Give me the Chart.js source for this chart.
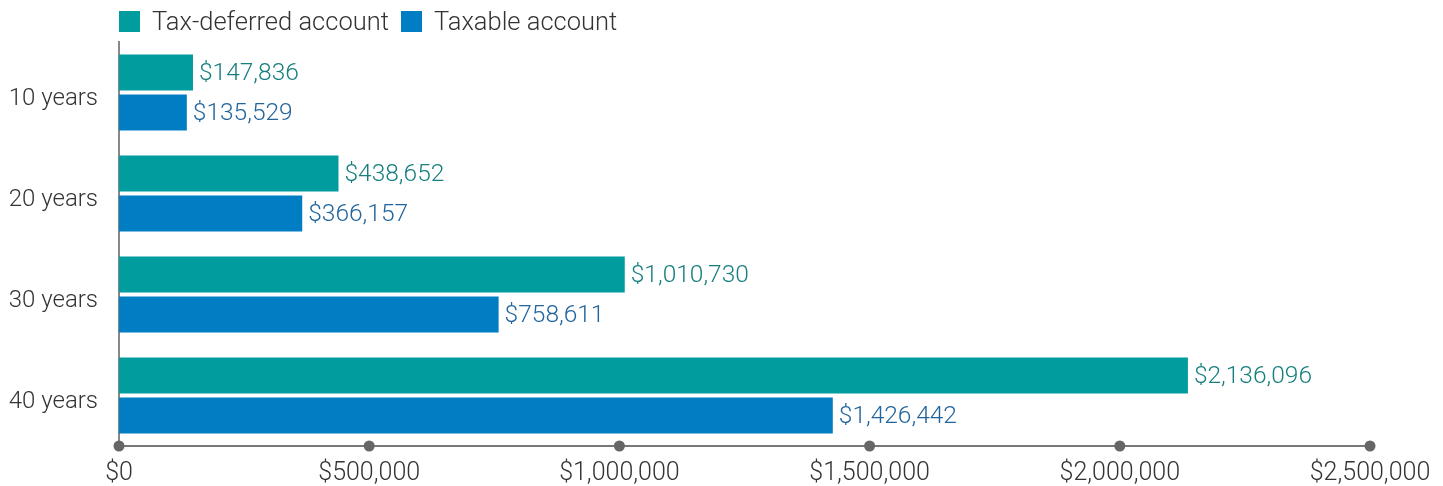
<!DOCTYPE html>
<html>
<head>
<meta charset="utf-8">
<script src="https://cdn.jsdelivr.net/npm/chart.js@4"></script>
<style>
  html, body { margin: 0; padding: 0; background: #fff; }
  #wrap { position: relative; width: 1443px; height: 486px; }
  .legend { position: absolute; top: 6px; left: 119px; display: flex; align-items: center;
            font-family: Roboto, sans-serif; font-weight: 300; font-size: 25.5px; color: #333; }
  .legend span.box { display: inline-block; width: 21px; height: 21px; margin-right: 12px; }
  .legend .item { display: flex; align-items: center; margin-right: 12px; }
</style>
</head>
<body>
<div id="wrap">
  <canvas id="chart" width="1443" height="486"></canvas>
  <div class="legend">
    <div class="item"><span class="box" style="background:#009C9E"></span>Tax-deferred account</div>
    <div class="item"><span class="box" style="background:#007DC3"></span>Taxable account</div>
  </div>
</div>
<script>
// Chart data
const categories = ['10 years', '20 years', '30 years', '40 years'];
const taxDeferred = [147836, 438652, 1010730, 2136096];
const taxable = [135529, 366157, 758611, 1426442];
const xTicks = [0, 500000, 1000000, 1500000, 2000000, 2500000];

const fmt = v => '$' + v.toLocaleString('en-US');

// Value labels right of each bar
const valueLabels = {
    id: 'valueLabels',
    afterDatasetsDraw(chart) {
        const ctx = chart.ctx;
        ctx.save();
        ctx.font = '300 24.5px Roboto';
        ctx.textBaseline = 'middle';
        ctx.textAlign = 'left';
        chart.data.datasets.forEach((ds, i) => {
            ctx.fillStyle = ds.labelColor;
            chart.getDatasetMeta(i).data.forEach((bar, j) => {
                ctx.fillText(fmt(ds.data[j]), bar.x + 6, bar.y + 1);
            });
        });
        ctx.restore();
    }
};

// Round markers on the x axis at each tick
const tickDots = {
    id: 'tickDots',
    afterDraw(chart) {
        const ctx = chart.ctx;
        const xs = chart.scales.x;
        ctx.save();
        ctx.fillStyle = '#666';
        xs.ticks.forEach(t => {
            ctx.beginPath();
            ctx.arc(xs.getPixelForValue(t.value), xs.top, 5.5, 0, Math.PI * 2);
            ctx.fill();
        });
        ctx.restore();
    }
};

new Chart(document.getElementById('chart'), {
    type: 'bar',
    data: {
        labels: categories,
        datasets: [
            { label: 'Tax-deferred account', data: taxDeferred, backgroundColor: '#009C9E', labelColor: '#167F7E' },
            { label: 'Taxable account', data: taxable, backgroundColor: '#007DC3', labelColor: '#22659C' }
        ]
    },
    options: {
        indexAxis: 'y',
        responsive: false,
        animation: false,
        categoryPercentage: 0.792,
        barPercentage: 0.9,
        layout: { padding: { top: 42, right: 73, left: 0, bottom: 0 } },
        scales: {
            x: {
                min: 0,
                max: 2500000,
                afterBuildTicks: s => { s.ticks = xTicks.map(v => ({ value: v })); },
                afterFit: s => { s.height = 40; },
                grid: { display: false },
                border: { display: true, color: '#777', width: 2 },
                ticks: {
                    callback: v => fmt(v),
                    color: '#333',
                    font: { family: 'Roboto', weight: '300', size: 25 },
                    padding: 5,
                    maxRotation: 0
                }
            },
            y: {
                afterFit: s => { s.width = 119; },
                grid: { display: false },
                border: { display: true, color: '#888', width: 2 },
                ticks: {
                    color: '#333',
                    font: { family: 'Roboto', weight: '300', size: 24 },
                    padding: 13,
                    labelOffset: 6
                }
            }
        },
        plugins: {
            legend: { display: false },
            tooltip: { enabled: false }
        }
    },
    plugins: [valueLabels, tickDots]
});
</script>
</body>
</html>
